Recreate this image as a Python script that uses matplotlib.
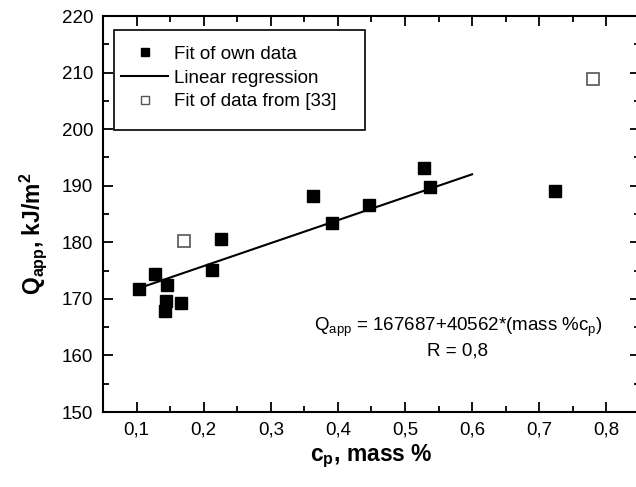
import matplotlib
matplotlib.use("Agg")
import matplotlib.pyplot as plt
from matplotlib.ticker import MultipleLocator, FuncFormatter
from matplotlib.patches import Rectangle
from matplotlib.lines import Line2D

plt.rcParams['font.family'] = ['Liberation Sans', 'DejaVu Sans']
plt.rcParams['mathtext.fontset'] = 'custom'
plt.rcParams['mathtext.rm'] = 'Liberation Sans'
plt.rcParams['mathtext.it'] = 'Liberation Sans:italic'
plt.rcParams['mathtext.bf'] = 'Liberation Sans:bold'

# own data (mass % cp, Q_app kJ/m2)
own_x = [0.104, 0.127, 0.146, 0.144, 0.142, 0.166, 0.212, 0.226,
         0.363, 0.391, 0.447, 0.529, 0.537, 0.724]
own_y = [171.7, 174.4, 172.4, 169.6, 167.8, 169.3, 175.1, 180.6,
         188.2, 183.5, 186.6, 193.2, 189.8, 189.0]

# data from [33]
ref_x = [0.170, 0.780]
ref_y = [180.3, 208.8]

# linear regression Q = 167687 + 40562*cp (J/m2)
fit_x = [0.1, 0.6]
fit_intercept = 167.687
fit_slope = 40.562
fit_y = [fit_intercept + fit_slope * v for v in fit_x]

fig = plt.figure(figsize=(6.36, 4.87), dpi=100)
ax = fig.add_axes([0.162, 0.154, 0.844, 0.813])

ax.plot(fit_x, fit_y, color="black", linewidth=1.5, zorder=2)
ax.plot(own_x, own_y, "s", color="black", markersize=9, zorder=3)
ax.plot(ref_x, ref_y, "s", markerfacecolor="white", markeredgecolor="#555555",
        markeredgewidth=1.2, markersize=9, zorder=3)

ax.set_xlim(0.05, 0.85)
ax.set_ylim(150, 220)
ax.xaxis.set_major_locator(MultipleLocator(0.1))
ax.xaxis.set_minor_locator(MultipleLocator(0.05))
ax.yaxis.set_major_locator(MultipleLocator(10))
ax.yaxis.set_minor_locator(MultipleLocator(5))
ax.xaxis.set_major_formatter(FuncFormatter(lambda v, p: ("%.1f" % v).replace(".", ",")))
ax.yaxis.set_major_formatter(FuncFormatter(lambda v, p: "%d" % v))
ax.tick_params(which="both", direction="in", top=True, right=True, width=1.3)
ax.tick_params(which="major", length=7, labelsize=13.5, pad=7)
ax.tick_params(which="minor", length=4)
for s in ax.spines.values():
    s.set_linewidth(1.5)

ax.set_xlabel(r"$\mathbf{c_p}$, mass %", fontsize=16.5, fontweight="bold")
ax.set_ylabel(r"$\mathbf{Q_{app}}$, kJ/m$\mathbf{^2}$", fontsize=16.5, fontweight="bold")
ax.xaxis.set_label_coords(0.5, -0.078)
ax.yaxis.set_label_coords(-0.10, 0.45)

ax.text(0.579, 165.0, r"Q$_\mathregular{app}$ = 167687+40562*(mass %c$_\mathregular{p}$)",
        fontsize=13.5, ha="center", va="center")
ax.text(0.579, 160.7, "R = 0,8", fontsize=13.5, ha="center", va="center")

# legend box
ax.add_patch(Rectangle((0.0205, 0.712), 0.467, 0.253, transform=ax.transAxes,
                       fill=False, edgecolor="black", linewidth=1.2, zorder=4))
handles = [
    Line2D([], [], linestyle="none", marker="s", color="black", markersize=6),
    Line2D([], [], color="black", linewidth=1.5),
    Line2D([], [], linestyle="none", marker="s", markerfacecolor="white",
           markeredgecolor="#555555", markersize=6),
]
labels = ["Fit of own data", "Linear regression", "Fit of data from [33]"]
ax.legend(handles, labels, loc="upper left", bbox_to_anchor=(0.02, 0.944),
          frameon=False, fontsize=13.5, handlelength=2.5, handletextpad=0.3,
          labelspacing=0.35, borderaxespad=0)

fig.savefig("out.png", dpi=100)
